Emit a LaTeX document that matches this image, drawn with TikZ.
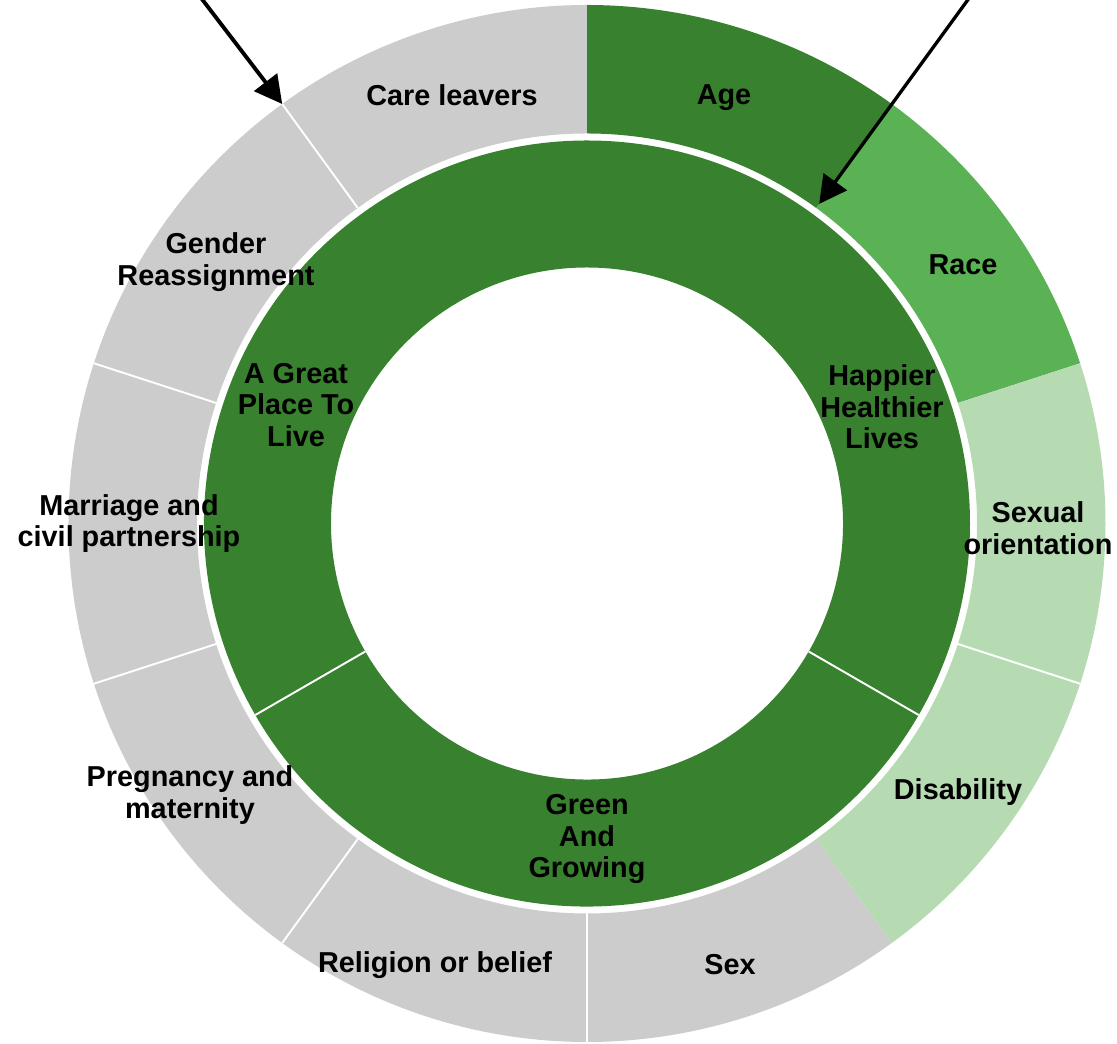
\documentclass[tikz,border=0pt]{standalone}
\usepackage{fontspec}
\setmainfont{Liberation Sans}
\usepackage{tikz}
\usetikzlibrary{arrows.meta}

\definecolor{darkgreen}{HTML}{38812F}
\definecolor{midgreen}{HTML}{5BB254}
\definecolor{lightgreen}{HTML}{B6DBB3}
\definecolor{ringgray}{HTML}{CCCCCC}

% colour, start angle, end angle, inner radius, outer radius
\newcommand{\ringpart}[5]{%
  \fill[#1] (#2:#4) arc[start angle=#2, end angle=#3, radius=#4]
    -- (#3:#5) arc[start angle=#3, end angle=#2, radius=#5] -- cycle;}

\tikzset{
  label/.style={font=\fontsize{16.4}{18}\selectfont\bfseries, align=center, inner sep=0pt},
  gap/.style={draw=white, line width=1.1pt},
  pointer/.style={draw=black, -{Triangle[length=0.55cm,width=0.57cm]}}
}

\begin{document}
\begin{tikzpicture}
\clip (-11.74,-10.41) rectangle (10.6,10.47);
\fill[white] (-11.74,-10.41) rectangle (10.6,10.47);

% outer ring
\ringpart{darkgreen}{54}{90}{7.8}{10.37}
\ringpart{midgreen}{18}{54}{7.8}{10.37}
\ringpart{lightgreen}{-18}{18}{7.8}{10.37}
\ringpart{lightgreen}{-54}{-18}{7.8}{10.37}
\ringpart{ringgray}{-90}{-54}{7.8}{10.37}
\ringpart{ringgray}{-126}{-90}{7.8}{10.37}
\ringpart{ringgray}{-162}{-126}{7.8}{10.37}
\ringpart{ringgray}{162}{198}{7.8}{10.37}
\ringpart{ringgray}{126}{162}{7.8}{10.37}
\ringpart{ringgray}{90}{126}{7.8}{10.37}

\draw[gap] (-18:7.8) -- (-18:10.37);
\draw[gap] (-90:7.8) -- (-90:10.37);
\draw[gap] (-126:7.8) -- (-126:10.37);
\draw[gap] (-162:7.8) -- (-162:10.37);
\draw[gap] (162:7.8) -- (162:10.37);
\draw[gap] (126:7.8) -- (126:10.37);

% inner ring
\ringpart{darkgreen}{-30}{90}{5.12}{7.66}
\ringpart{darkgreen}{90}{210}{5.12}{7.66}
\ringpart{darkgreen}{210}{330}{5.12}{7.66}

\draw[gap] (-30:5.12) -- (-30:7.66);
\draw[gap] (210:5.12) -- (210:7.66);

\node[label] (careleavers) at (-2.7,8.57) {Care leavers};
\node[label] (age) at (2.74,8.52) {Age};
\node[label] (race) at (7.52,5.17) {Race};
\node[label] (sexual) at (9.02,-0.1) {Sexual\\orientation};
\node[label] (disability) at (7.42,-5.37) {Disability};
\node[label] (sex) at (2.86,-8.83) {Sex};
\node[label] (religion) at (-3.04,-8.84) {Religion or belief};
\node[label] (pregnancy) at (-7.94,-5.43) {Pregnancy and\\maternity};
\node[label] (marriage) at (-9.16,0.0) {Marriage and\\civil partnership};
\node[label] (gender) at (-7.42,5.23) {Gender\\Reassignment};
\node[label] (greatplace) at (-5.82,2.37) {A Great\\Place To\\Live};
\node[label] (happier) at (5.9,2.33) {Happier\\Healthier\\Lives};
\node[label] (greengrowing) at (0,-6.31) {Green\\And\\Growing};

\coordinate (tailleft) at (-7.84,10.67);
\coordinate (headleft) at (126:10.37);
\coordinate (tailright) at (7.76,10.67);
\coordinate (headright) at (54:7.9);

\draw[pointer, line width=2.2pt] (tailleft) -- (headleft);
\draw[pointer, line width=1.9pt] (tailright) -- (headright);
\end{tikzpicture}
\end{document}
